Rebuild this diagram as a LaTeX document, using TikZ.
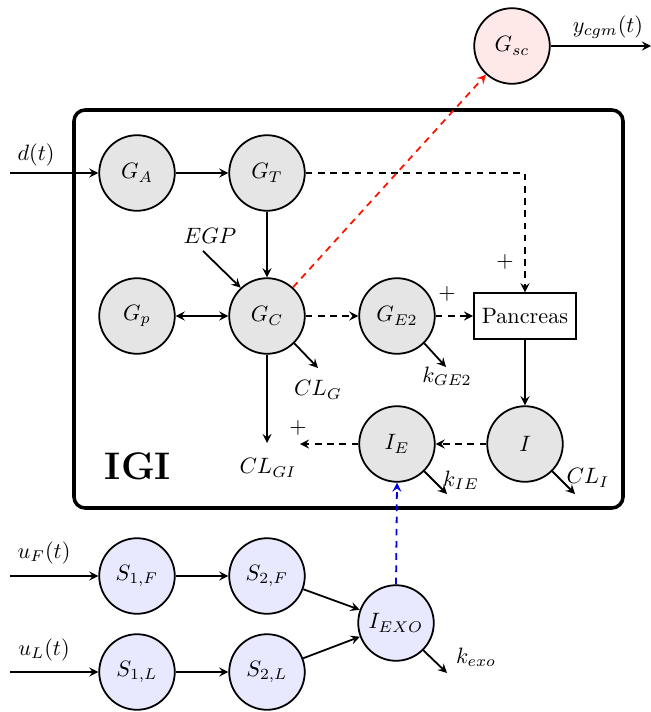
\documentclass[tikz,border=0pt]{standalone}
\usetikzlibrary{arrows}
\begin{document}
\begin{tikzpicture}[x=0.45pt,y=-0.45pt,>=stealth,line width=0.8pt,
  gnode/.style={circle,draw,fill=black!10,minimum size=34pt,inner sep=0pt},
  bnode/.style={circle,draw,fill=blue!9,minimum size=34pt,inner sep=0pt},
  rnode/.style={circle,draw,fill=red!9,minimum size=34pt,inner sep=0pt},
  boxnode/.style={rectangle,draw,fill=white,minimum width=46pt,minimum height=20.5pt,inner sep=2pt},
  lbl/.style={inner sep=0pt},
  dsh/.style={dashed,dash pattern=on 3pt off 2.5pt}]
\useasboundingbox (0,0) rectangle (651,712);
% outer box
\draw[line width=1.6pt,rounded corners=5pt] (74,110) rectangle (623,508);
\node[lbl,font=\LARGE\bfseries] (igi) at (138,466) {IGI};
% nodes
\node[gnode] (GA) at (137,173) {$G_A$};
\node[gnode] (GT) at (267,173) {$G_T$};
\node[gnode] (Gp) at (137,316) {$G_p$};
\node[gnode] (GC) at (267,316) {$G_C$};
\node[gnode] (GE2) at (397,316) {$G_{E2}$};
\node[boxnode] (Panc) at (525,316) {Pancreas};
\node[gnode] (I) at (525,444) {$I$};
\node[gnode] (IE) at (397,444) {$I_E$};
\node[rnode] (Gsc) at (512,46) {$G_{sc}$};
\node[bnode] (S1F) at (137,576) {$S_{1,F}$};
\node[bnode] (S2F) at (267,576) {$S_{2,F}$};
\node[bnode] (S1L) at (137,672) {$S_{1,L}$};
\node[bnode] (S2L) at (267,672) {$S_{2,L}$};
\node[bnode] (IEXO) at (396,623) {$I_{EXO}$};
% free ends
\coordinate (din) at (10,173);
\coordinate (uFin) at (10,576);
\coordinate (uLin) at (10,672);
\coordinate (yout) at (651,46);
\coordinate (egps) at (203,251);
\coordinate (clgi) at (267,443);
\coordinate (clg) at (318,368);
\coordinate (kge2) at (446,367);
\coordinate (plusend) at (300,444);
\coordinate (kie) at (447,494);
\coordinate (cli) at (575,494);
\coordinate (kexo) at (447,673);
% labels
\node[lbl] (ld) at (36,155) {$d(t)$};
\node[lbl] (luF) at (44,553) {$u_F(t)$};
\node[lbl] (luL) at (44,650) {$u_L(t)$};
\node[lbl] (ly) at (608,27) {$y_{cgm}(t)$};
\node[lbl] (legp) at (210,236) {$EGP$};
\node[lbl] (lclgi) at (268,468) {$CL_{GI}$};
\node[lbl] (lclg) at (318,390) {$CL_G$};
\node[lbl] (lkge2) at (447,376) {$k_{GE2}$};
\node[lbl] (lkie) at (461,480) {$k_{IE}$};
\node[lbl] (lcli) at (588,478) {$CL_I$};
\node[lbl] (lkexo) at (476,657) {$k_{exo}$};
\node[lbl] (p1) at (505,262) {$+$};
\node[lbl] (p2) at (447,294) {$+$};
\node[lbl] (p3) at (298,428) {$+$};
% solid arrows
\draw[->] (din) -- (GA);
\draw[->] (GA) -- (GT);
\draw[->] (GT) -- (GC);
\draw[<->] (Gp) -- (GC);
\draw[->] (egps) -- (GC.133);
\draw[->] (GC) -- (clgi);
\draw[->] (GC.-45) -- (clg);
\draw[->] (GE2.-45) -- (kge2);
\draw[->] (Panc) -- (I);
\draw[->] (IE.-45) -- (kie);
\draw[->] (I.-45) -- (cli);
\draw[->] (Gsc) -- (yout);
\draw[->] (uFin) -- (S1F);
\draw[->] (uLin) -- (S1L);
\draw[->] (S1F) -- (S2F);
\draw[->] (S1L) -- (S2L);
\draw[->] (S2F) -- (IEXO);
\draw[->] (S2L) -- (IEXO);
\draw[->] (IEXO.-45) -- (kexo);
% dashed arrows
\draw[->,dsh] (GT.east) -| (Panc.north);
\draw[->,dsh] (GC) -- (GE2);
\draw[->,dsh] (GE2) -- (Panc);
\draw[->,dsh] (I) -- (IE);
\draw[->,dsh] (IE) -- (plusend);
\draw[->,dsh,red!85!orange] (GC) -- (Gsc);
\draw[->,dsh,blue!90!black] (IEXO.north) -- (IE.south);
\end{tikzpicture}
\end{document}
